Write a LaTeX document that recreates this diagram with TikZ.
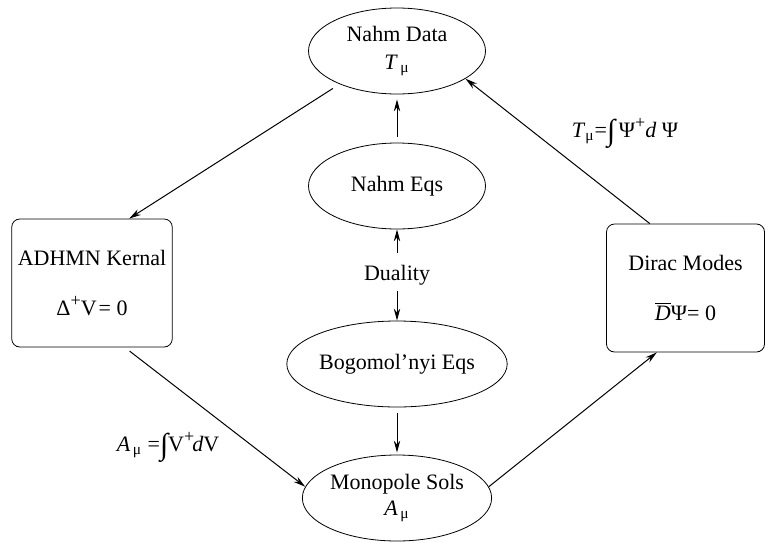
\documentclass[tikz,border=0pt]{standalone}
\usepackage{fontspec}
\setmainfont{Liberation Serif}
\usetikzlibrary{arrows.meta, shapes.geometric}

\newcommand{\intsign}{{\fontsize{15}{15}\selectfont\raisebox{-1.5pt}{∫}}}
\newcommand{\plussup}{\raisebox{4.5pt}{\fontsize{9}{9}\selectfont +}}

\begin{document}
\begin{tikzpicture}[
		x=0.5pt, y=-0.5pt,
		>={Stealth[length=6pt, width=3.2pt]},
		font=\fontsize{11}{14}\selectfont,
		oval/.style     ={draw, ellipse, align=center, inner sep=0pt, minimum width=88.5pt, minimum height=43pt},
		kernel/.style   ={draw, rounded corners=4pt, align=center, inner sep=3pt, minimum width=79pt, minimum height=64pt},
		thinarrow/.style={->, line width=0.5pt},
		lab/.style      ={inner sep=1pt}
		]
		\useasboundingbox (0,0) rectangle (766,542);
		
		% --- Middle column ---
		\node[oval] (nahmdata) at (397,51)  {Nahm Data\\ \textit{T}\textsubscript{\,μ}};
		\node[oval] (nahmeqs)  at (397,186) {Nahm Eqs};
		\node[lab]  (duality)  at (397,275) {Duality};
		\node[oval] (bogo)     at (397,364) {Bogomol’nyi Eqs};
		\node[oval] (monopole) at (397,498) {Monopole Sols\\[-1pt] \textit{A}\textsubscript{\,μ}};
		
		\draw[thinarrow, shorten <=3pt, shorten >=2.5pt] (nahmeqs) -- (nahmdata);
		\draw[thinarrow, shorten <=5pt] (duality) -- (nahmeqs);
		\draw[thinarrow, shorten <=2pt] (duality) -- (bogo);
		\draw[thinarrow, shorten <=3pt, shorten >=1pt] (bogo) -- (monopole);
		
		% --- Side boxes ---
		\node[kernel] (adhmn) at (92,283)    {ADHMN Kernal\\[11pt] Δ\plussup V\kern1pt= 0};
		\node[kernel] (dirac) at (685.5,288) {Dirac Modes\\[11pt] $\overline{\mbox{\textit{D}}}$Ψ= 0};
		
		% --- Outer loop ---
		\draw[thinarrow, shorten <=4pt] (nahmdata.210) -- (adhmn.60);
		\draw[thinarrow, shorten <=3pt] (adhmn.297) -- (monopole.173);
		\draw[thinarrow] (monopole.7) -- (dirac.246);
		\draw[thinarrow] (dirac.119) -- (nahmdata.338);
		
		% --- Formula labels ---
		\node[lab] (alabel) at (168,447) {\textit{A}\textsubscript{\,μ} =\intsign V\plussup\kern-1pt\textit{d}V};
		\node[lab] (tlabel) at (625,133) {\textit{T}\textsubscript{μ}=\intsign\,Ψ\plussup\textit{d} Ψ};
		
	\end{tikzpicture}
\end{document}
